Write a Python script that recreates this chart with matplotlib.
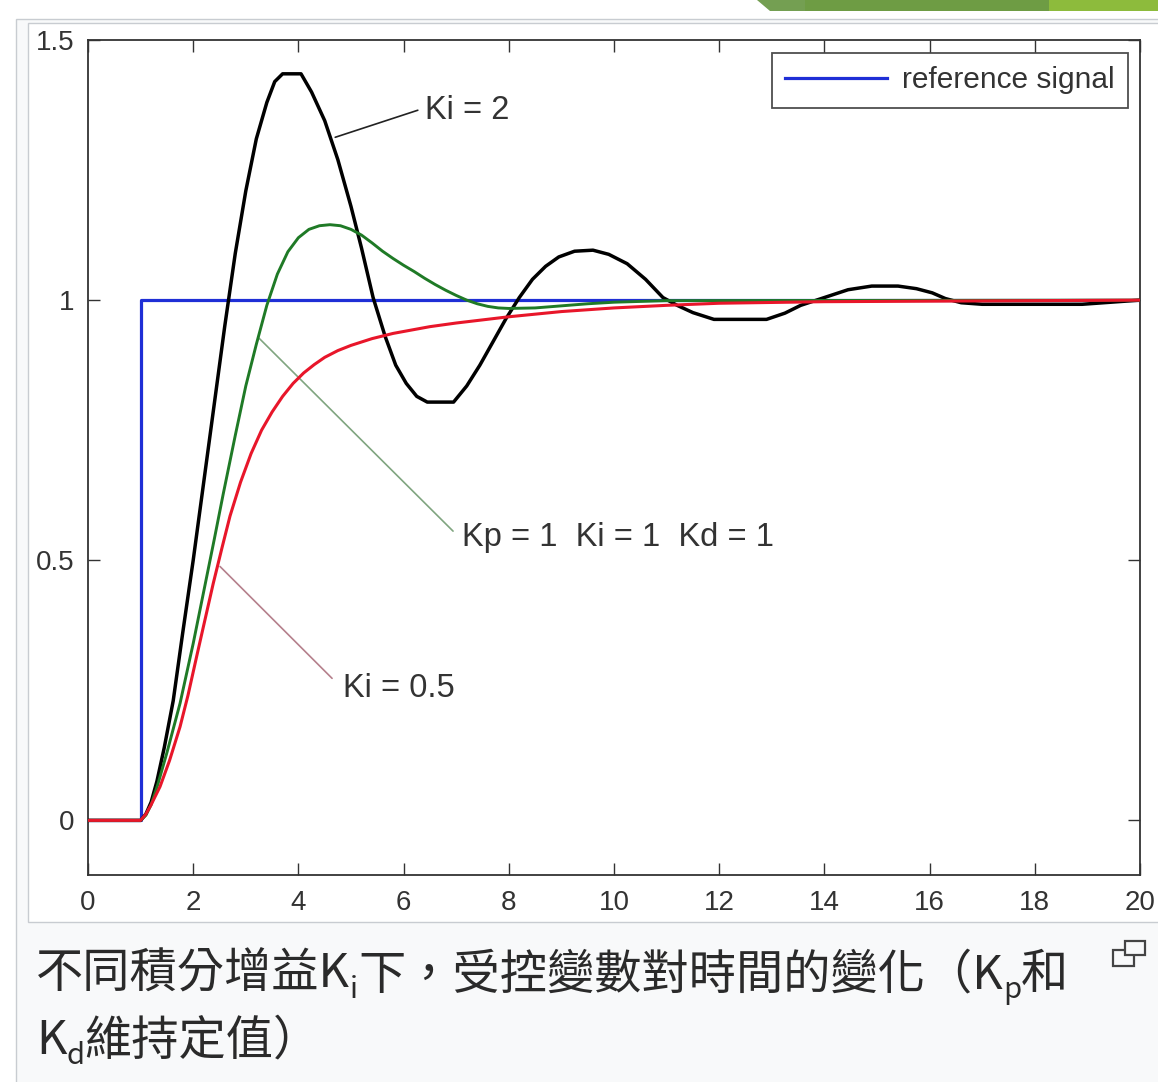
import matplotlib
matplotlib.use('Agg')
import matplotlib.pyplot as plt
from matplotlib.patches import Rectangle, Polygon

# ---------------- data ----------------
t_ref = [0, 1, 1, 20]
y_ref = [0, 0, 1, 1]

t_ki2 = [0, 1.0, 1.1, 1.2, 1.31, 1.45, 1.62, 1.8, 2.0, 2.2, 2.4, 2.6, 2.8, 3.0, 3.2,
         3.4, 3.55, 3.7, 4.05, 4.25, 4.5, 4.75, 5.0, 5.2, 5.42, 5.65, 5.85, 6.05, 6.25,
         6.45, 6.95, 7.2, 7.45, 7.7, 7.95, 8.2, 8.45, 8.7, 8.95, 9.25, 9.6, 9.9, 10.25,
         10.6, 10.93, 11.2, 11.5, 11.9, 12.9, 13.25, 13.55, 13.85, 14.15, 14.45, 14.9,
         15.4, 15.75, 16.05, 16.3, 16.6, 17.0, 18.9, 20]
y_ki2 = [0, 0, 0.012, 0.035, 0.075, 0.14, 0.23, 0.36, 0.5, 0.65, 0.8, 0.95, 1.09, 1.21, 1.31,
         1.38, 1.42, 1.435, 1.435, 1.40, 1.345, 1.27, 1.18, 1.10, 1.005, 0.93, 0.875, 0.84, 0.815,
         0.804, 0.804, 0.835, 0.875, 0.92, 0.965, 1.005, 1.04, 1.065, 1.083, 1.094, 1.096, 1.088, 1.07,
         1.04, 1.005, 0.99, 0.976, 0.963, 0.963, 0.975, 0.99, 1.0, 1.01, 1.02, 1.027,
         1.027, 1.022, 1.014, 1.003, 0.995, 0.992, 0.992, 1.0]

t_ki1 = [0, 1.0, 1.1, 1.2, 1.33, 1.5, 1.75, 2.0, 2.22, 2.4, 2.57, 2.8, 3.0, 3.2, 3.4,
         3.6, 3.8, 4.0, 4.2, 4.4, 4.6, 4.8, 5.0, 5.2, 5.4, 5.6, 5.8, 6.0, 6.2, 6.4, 6.6,
         6.8, 7.0, 7.2, 7.4, 7.6, 7.8, 8.0, 8.5, 9.0, 9.5, 10.0, 11.0, 20]
y_ki1 = [0, 0, 0.01, 0.03, 0.07, 0.13, 0.225, 0.34, 0.45, 0.54, 0.627, 0.74, 0.835, 0.915, 0.99,
         1.05, 1.093, 1.12, 1.136, 1.143, 1.145, 1.143, 1.136, 1.125, 1.11, 1.094, 1.08, 1.067,
         1.055, 1.042, 1.03, 1.019, 1.009, 1.0, 0.993, 0.988, 0.985, 0.984, 0.985, 0.989,
         0.993, 0.996, 0.999, 1.0]

t_ki05 = [0, 1.0, 1.1, 1.2, 1.37, 1.55, 1.75, 1.9, 2.07, 2.2, 2.38, 2.55, 2.7, 2.9, 3.1,
          3.3, 3.5, 3.7, 3.9, 4.1, 4.3, 4.5, 4.75, 5.0, 5.4, 5.8, 6.5, 7.0, 8.0, 9.0,
          10.0, 11.0, 12.0, 14.0, 20]
y_ki05 = [0, 0, 0.012, 0.03, 0.065, 0.115, 0.18, 0.24, 0.317, 0.375, 0.455, 0.525, 0.585,
          0.65, 0.705, 0.75, 0.785, 0.815, 0.84, 0.86, 0.876, 0.89, 0.903, 0.913, 0.926,
          0.936, 0.949, 0.956, 0.968, 0.978, 0.985, 0.99, 0.994, 0.997, 1.0]

x_ticks = [0, 2, 4, 6, 8, 10, 12, 14, 16, 18, 20]
y_ticks = [0, 0.5, 1, 1.5]
y_tick_labels = ['0', '0.5', '1', '1.5']

legend_label = 'reference signal'
label_ki2 = 'Ki = 2'
label_ki1 = 'Kp = 1  Ki = 1  Kd = 1'
label_ki05 = 'Ki = 0.5'

caption_line1 = [("不同積分增益K", False), ("i", True), ("下，受控變數對時間的變化（K", False),
                 ("p", True), ("和", False)]
caption_line2 = [("K", False), ("d", True), ("維持定值）", False)]

# ---------------- figure ----------------
W, H, DPI = 1158, 1082, 100
fig = plt.figure(figsize=(W / DPI, H / DPI), dpi=DPI)
fig.patch.set_facecolor('white')


def fx(x):
    return x / W


def fy(y):
    return 1 - y / H


def add_rect(x0, y0, x1, y1, fc, ec='none', lw=0, z=-5):
    r = Rectangle((fx(x0), fy(y1)), (x1 - x0) / W, (y1 - y0) / H, transform=fig.transFigure,
                  facecolor=fc, edgecolor=ec, linewidth=lw, zorder=z)
    fig.add_artist(r)


# thumbnail frame
add_rect(16, 19, 1170, 1095, '#f8f9fa', '#c8ccd1', 1.0, z=-6)
add_rect(28, 23, 1170, 922, 'white', '#c8ccd1', 1.0, z=-5)

# green decoration at top right
for pts, col in [([(757, 0), (770, 11), (806, 11), (806, 0)], '#749f52'),
                 ([(805, 0), (805, 11), (1050, 11), (1050, 0)], '#6e9c44'),
                 ([(1049, 0), (1049, 11), (1160, 11), (1160, 0)], '#8dbb3c')]:
    p = Polygon([(fx(a), fy(b)) for a, b in pts], closed=True, transform=fig.transFigure,
                facecolor=col, edgecolor='none', zorder=-4)
    fig.add_artist(p)

ax = fig.add_axes([88 / W, (H - 875) / H, (1140 - 88) / W, (875 - 40) / H])
ax.set_facecolor('white')

lf = ['Liberation Sans', 'DejaVu Sans']

ax.plot(t_ref, y_ref, color='#1f2fd6', lw=2.3, label=legend_label, zorder=2)
ax.plot(t_ki2, y_ki2, color='#000000', lw=2.5, zorder=3)
ax.plot(t_ki1, y_ki1, color='#1f7a26', lw=2.1, zorder=4)
ax.plot(t_ki05, y_ki05, color='#e8162a', lw=2.2, zorder=5)

ax.set_xlim(0, 20)
ax.set_ylim(-0.105, 1.5)
ax.set_xticks(x_ticks)
ax.set_xticklabels([str(v) for v in x_ticks])
ax.set_yticks(y_ticks)
ax.set_yticklabels(y_tick_labels)
ax.tick_params(direction='in', length=8.5, width=1.0, color='#333333', top=True, right=True,
               labelsize=20, labelcolor='#333333')
ax.tick_params(axis='x', pad=11)
ax.tick_params(axis='y', pad=10)
for lab in ax.get_xticklabels() + ax.get_yticklabels():
    lab.set_family(lf)
for s in ax.spines.values():
    s.set_color('#333333')
    s.set_linewidth(1.3)

# annotations: leader line + label
txt_kw = dict(fontsize=23.5, color='#333333', family=lf, va='center', ha='left')
annots = [
    (label_ki2, (4.70, 1.313), (6.27, 1.365), (6.41, 1.365), '#222222'),
    (label_ki1, (3.23, 0.929), (6.94, 0.556), (7.11, 0.544), '#80a580'),
    (label_ki05, (2.51, 0.488), (4.64, 0.273), (4.85, 0.254), '#b5808c'),
]
for lab, p_curve, p_end, p_text, col in annots:
    ax.annotate('', xy=p_curve, xytext=p_end,
                arrowprops=dict(arrowstyle='-', color=col, lw=1.2, shrinkA=0, shrinkB=0))
    ax.text(p_text[0], p_text[1], lab, **txt_kw)

leg = ax.legend(loc='upper right', bbox_to_anchor=(0.9886, 0.9844), borderaxespad=0,
                fancybox=False, frameon=True, prop={'family': lf, 'size': 21.5},
                handlelength=3.4, handletextpad=0.5, borderpad=0.45)
leg.get_frame().set_edgecolor('#222222')
leg.get_frame().set_linewidth(1.3)
for txt in leg.get_texts():
    txt.set_color('#333333')

# caption
cjk = ['Noto Sans CJK TC', 'DejaVu Sans']
cap_fs = 34
renderer = fig.canvas.get_renderer()


def draw_runs(x0, ybase, runs):
    x = x0
    for s, sub in runs:
        size = cap_fs * 0.62 if sub else cap_fs
        yy = ybase + (10 if sub else 0)
        tx = fig.text(fx(x), fy(yy), s, fontsize=size, family=cjk, weight='light',
                      color='#2a2a2a', va='baseline', ha='left')
        bb = tx.get_window_extent(renderer)
        x += bb.width


draw_runs(36, 988, caption_line1)
draw_runs(36, 1054, caption_line2)

# magnify icon
add_rect(1113, 950, 1134, 966, 'none', '#444444', 1.6, z=5)
add_rect(1125, 941, 1145, 955, '#f8f9fa', '#444444', 1.6, z=6)

fig.savefig('out.png', dpi=DPI)
